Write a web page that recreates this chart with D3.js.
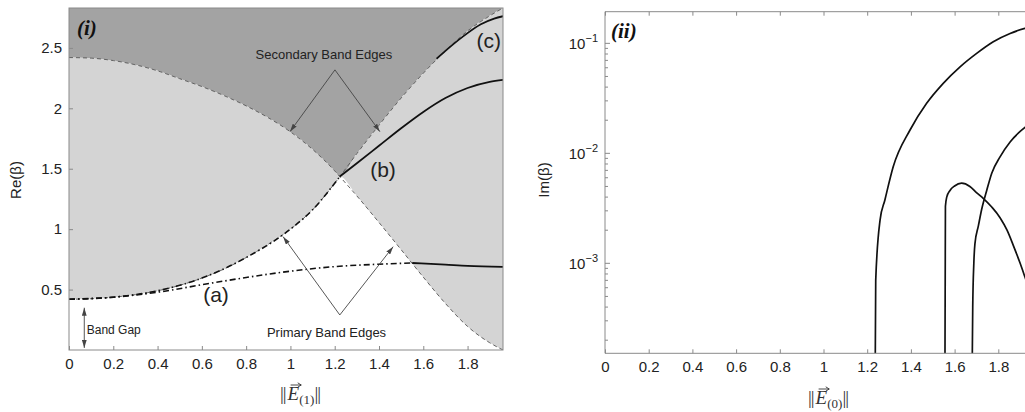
<!DOCTYPE html>
<html>
<head>
<meta charset="utf-8">
<script src="https://cdn.jsdelivr.net/npm/d3@7"></script>
<style>
  body { margin: 0; background: #fff; }
  svg { display: block; }
</style>
</head>
<body>
<div id="chart"></div>
<script>
// ---- panel (i): band edges, sampled on a common grid ----
const edgeX    = [0, 0.1, 0.2, 0.3, 0.4, 0.5, 0.6, 0.7, 0.8, 0.9, 1.0, 1.1, 1.2, 1.223, 1.3, 1.4, 1.5, 1.6, 1.7, 1.8, 1.9, 1.96];
const edgeDown = [2.42, 2.415, 2.395, 2.36, 2.31, 2.245, 2.18, 2.105, 2.02, 1.922, 1.805, 1.66, 1.482, 1.435, 1.275, 1.055, 0.83, 0.603, 0.385, 0.195, 0.06, 0];
const edgeUp   = [0.42, 0.424, 0.437, 0.458, 0.49, 0.535, 0.595, 0.67, 0.765, 0.875, 1.0, 1.16, 1.38, 1.435, 1.625, 1.86, 2.085, 2.29, 2.475, 2.64, 2.765, 2.83];

// branch (a)
const aDashX = [0, 0.2, 0.4, 0.6, 0.8, 1.0, 1.2, 1.4, 1.55];
const aDashY = [0.42, 0.437, 0.478, 0.54, 0.60, 0.652, 0.69, 0.71, 0.72];
const aSolidX = [1.55, 1.7, 1.8, 1.96];
const aSolidY = [0.72, 0.706, 0.696, 0.688];
// branch (b)
const bDashX = [0, 0.2, 0.4, 0.6, 0.8, 1.0, 1.1, 1.2, 1.223];
const bDashY = [0.42, 0.437, 0.49, 0.595, 0.765, 1.0, 1.16, 1.38, 1.435];
const bSolidX = [1.223, 1.3, 1.4, 1.5, 1.6, 1.7, 1.8, 1.9, 1.96];
const bSolidY = [1.435, 1.545, 1.69, 1.835, 1.97, 2.085, 2.168, 2.219, 2.235];
// branch (c)
const cSolidX = [1.66, 1.7, 1.78, 1.86, 1.92, 1.96];
const cSolidY = [2.41, 2.475, 2.595, 2.695, 2.742, 2.762];

const xTicks = [0, 0.2, 0.4, 0.6, 0.8, 1, 1.2, 1.4, 1.6, 1.8];
const reTicks = [0.5, 1, 1.5, 2, 2.5];

// ---- panel (ii): Im(beta), log scale ----
const im1X = [1.237, 1.239, 1.259, 1.281, 1.319, 1.396, 1.472, 1.548, 1.625, 1.701, 1.777, 1.854, 1.922, 1.96];
const im1Y = [1.5e-4, 7.0e-4, 2.48e-3, 3.77e-3, 7.55e-3, 0.0163, 0.0285, 0.0433, 0.0612, 0.0811, 0.1035, 0.123, 0.137, 0.143];
const im2X = [1.556, 1.558, 1.564, 1.579, 1.60, 1.632, 1.67, 1.70, 1.731, 1.77, 1.808, 1.84, 1.869, 1.90, 1.922, 1.96];
const im2Y = [1.5e-4, 3.3e-3, 4.0e-3, 4.6e-3, 5.05e-3, 5.35e-3, 5.0e-3, 4.4e-3, 3.9e-3, 3.25e-3, 2.6e-3, 2.0e-3, 1.45e-3, 1.0e-3, 7.5e-4, 4.5e-4];
const im3X = [1.681, 1.683, 1.688, 1.693, 1.709, 1.724, 1.747, 1.77, 1.808, 1.854, 1.9, 1.922, 1.96];
const im3Y = [1.5e-4, 4e-4, 1.0e-3, 1.5e-3, 2.2e-3, 3.1e-3, 4.6e-3, 6.6e-3, 9.3e-3, 0.0127, 0.0158, 0.0172, 0.019];
const imMajor = [-1, -2, -3];

const W = 1025, H = 412;
const svg = d3.select("#chart").append("svg")
    .attr("width", W).attr("height", H)
    .style("font-family", "'Liberation Sans', Arial, Helvetica, sans-serif");

const frame = "#8a8a8a";
const zip = (xs, ys) => xs.map((x, i) => [x, ys[i]]);

const defs = svg.append("defs");
defs.append("marker")
    .attr("id", "head")
    .attr("viewBox", "0 0 10 6")
    .attr("refX", 10).attr("refY", 3)
    .attr("markerWidth", 8).attr("markerHeight", 5)
    .attr("markerUnits", "userSpaceOnUse")
    .attr("orient", "auto-start-reverse")
  .append("path")
    .attr("d", "M0,0L10,3L0,6Z")
    .attr("fill", "#444");

// ================= panel (i) =================
const x1 = d3.scaleLinear().domain([0, 1.96]).range([69, 503]);
const y1 = d3.scaleLinear().domain([0, 2.83]).range([350, 8]);

defs.append("clipPath").attr("id", "clip1").append("rect")
    .attr("x", 69).attr("y", 8).attr("width", 434).attr("height", 342);

const g1 = svg.append("g");
const p1 = g1.append("g").attr("clip-path", "url(#clip1)");

const bands = edgeX.map((x, i) => ({
  x, lo: Math.min(edgeUp[i], edgeDown[i]), hi: Math.max(edgeUp[i], edgeDown[i])
}));

p1.append("path")
    .datum(bands)
    .attr("fill", "#a3a3a3")
    .attr("d", d3.area().x(d => x1(d.x)).y0(d => y1(d.hi)).y1(y1(2.83)).curve(d3.curveMonotoneX));
p1.append("path")
    .datum(bands)
    .attr("fill", "#d4d4d4")
    .attr("d", d3.area().x(d => x1(d.x)).y0(d => y1(d.lo)).y1(d => y1(d.hi)).curve(d3.curveMonotoneX));

const line1 = d3.line().x(d => x1(d[0])).y(d => y1(d[1])).curve(d3.curveMonotoneX);

[edgeDown, edgeUp].forEach(ys => {
  p1.append("path")
      .datum(zip(edgeX, ys))
      .attr("fill", "none")
      .attr("stroke", "#555")
      .attr("stroke-width", 0.9)
      .attr("stroke-dasharray", "4,3")
      .attr("d", line1);
});

[[aDashX, aDashY], [bDashX, bDashY]].forEach(([xs, ys]) => {
  p1.append("path")
      .datum(zip(xs, ys))
      .attr("fill", "none")
      .attr("stroke", "#111")
      .attr("stroke-width", 1.6)
      .attr("stroke-dasharray", "6,3,1.5,3")
      .attr("d", line1);
});

[[aSolidX, aSolidY], [bSolidX, bSolidY], [cSolidX, cSolidY]].forEach(([xs, ys]) => {
  p1.append("path")
      .datum(zip(xs, ys))
      .attr("fill", "none")
      .attr("stroke", "#111")
      .attr("stroke-width", 1.8)
      .attr("d", line1);
});

// axes
g1.append("g")
    .attr("transform", "translate(0,350)")
    .call(d3.axisBottom(x1).tickValues(xTicks).tickFormat(d3.format("~g"))
      .tickSize(-4).tickSizeOuter(0).tickPadding(8))
    .call(g => g.select(".domain").remove())
    .call(g => g.selectAll("line").attr("stroke", frame))
    .call(g => g.selectAll("text").attr("fill", "#222").style("font-size", "15px"));

g1.append("g")
    .attr("transform", "translate(69,0)")
    .call(d3.axisLeft(y1).tickValues(reTicks).tickFormat(d3.format("~g"))
      .tickSize(-4).tickSizeOuter(0).tickPadding(7))
    .call(g => g.select(".domain").remove())
    .call(g => g.selectAll("line").attr("stroke", frame))
    .call(g => g.selectAll("text").attr("fill", "#222").style("font-size", "15px"));

g1.append("rect")
    .attr("x", 69).attr("y", 8).attr("width", 434).attr("height", 342)
    .attr("fill", "none").attr("stroke", frame).attr("stroke-width", 1);

// annotations (in data units)
function arrow(g, sx, sy, [xa, ya], [xb, yb], both) {
  const l = g.append("line")
      .attr("x1", sx(xa)).attr("y1", sy(ya))
      .attr("x2", sx(xb)).attr("y2", sy(yb))
      .attr("stroke", "#444").attr("stroke-width", 0.9)
      .attr("marker-end", "url(#head)");
  if (both) l.attr("marker-start", "url(#head)");
}

const secApex = [1.201, 2.318];
arrow(g1, x1, y1, secApex, [0.998, 1.807]);
arrow(g1, x1, y1, secApex, [1.404, 1.807]);
const priApex = [1.223, 0.29];
arrow(g1, x1, y1, priApex, [0.967, 0.938]);
arrow(g1, x1, y1, priApex, [1.464, 0.855]);
arrow(g1, x1, y1, [0.069, 0.017], [0.069, 0.35], true);

const note = (g, x, y, txt, size, anchor) => g.append("text")
    .attr("x", x).attr("y", y)
    .attr("text-anchor", anchor || "middle")
    .attr("fill", "#222")
    .style("font-size", size + "px")
    .text(txt);

note(g1, x1(1.151), y1(2.409), "Secondary Band Edges", 13);
note(g1, x1(1.163), y1(0.108), "Primary Band Edges", 13);
note(g1, x1(0.08), y1(0.13), "Band Gap", 12, "start");
note(g1, x1(0.664), y1(0.40), "(a)", 21);
note(g1, x1(1.418), y1(1.43), "(b)", 21);
note(g1, x1(1.896), y1(2.50), "(c)", 21);

g1.append("text")
    .attr("x", 77).attr("y", 35)
    .style("font-family", "'Liberation Serif', 'Times New Roman', serif")
    .style("font-size", "21px").style("font-weight", "bold").style("font-style", "italic")
    .attr("fill", "#111")
    .text("(i)");

g1.append("text")
    .attr("transform", "translate(21,180) rotate(-90)")
    .attr("text-anchor", "middle")
    .attr("fill", "#222")
    .style("font-size", "15px")
    .text("Re(β)");

// ||E_(n)|| with a vector arrow over the E
function normLabel(g, cx, y, sub) {
  const t = g.append("text")
      .attr("x", cx).attr("y", y)
      .attr("text-anchor", "middle")
      .attr("fill", "#333")
      .style("font-family", "'Liberation Serif', 'Times New Roman', serif")
      .style("font-size", "19px");
  t.append("tspan").style("letter-spacing", "-1px").text("||");
  t.append("tspan").attr("dx", 2).style("font-style", "italic").text("E");
  t.append("tspan").attr("dy", 4).style("font-size", "13px").text("(" + sub + ")");
  t.append("tspan").attr("dy", -4).style("letter-spacing", "-1px").text("||");
  const box = t.node().getExtentOfChar(2);
  const ax0 = box.x + 3, ax1 = box.x + box.width + 2, ay = box.y + 2;
  g.append("path")
      .attr("d", `M${ax0},${ay}L${ax1},${ay}M${ax1 - 3.5},${ay - 2.2}L${ax1},${ay}L${ax1 - 3.5},${ay + 2.2}`)
      .attr("fill", "none")
      .attr("stroke", "#333")
      .attr("stroke-width", 0.9);
}
normLabel(g1, 300, 400, 1);

// ================= panel (ii) =================
const x2 = d3.scaleLinear().domain([0, 1.96]).range([605, 605 + 1.96 * 218.5]);
const y2 = d3.scaleLog().domain([1.52e-4, 0.194]).range([353.3, 11.7]);

defs.append("clipPath").attr("id", "clip2").append("rect")
    .attr("x", 605).attr("y", 11.7).attr("width", x2(1.96) - 605).attr("height", 341.6);

const g2 = svg.append("g");
const p2 = g2.append("g").attr("clip-path", "url(#clip2)");
const line2 = d3.line().x(d => x2(d[0])).y(d => y2(d[1])).curve(d3.curveMonotoneX);

[[im1X, im1Y], [im2X, im2Y], [im3X, im3Y]].forEach(([xs, ys]) => {
  p2.append("path")
      .datum(zip(xs, ys))
      .attr("fill", "none")
      .attr("stroke", "#111")
      .attr("stroke-width", 1.7)
      .attr("d", line2);
});

g2.append("g")
    .attr("transform", "translate(0,353.3)")
    .call(d3.axisBottom(x2).tickValues(xTicks).tickFormat(d3.format("~g"))
      .tickSize(-4).tickSizeOuter(0).tickPadding(8))
    .call(g => g.select(".domain").remove())
    .call(g => g.selectAll("line").attr("stroke", frame))
    .call(g => g.selectAll("text").attr("fill", "#222").style("font-size", "15px"));

g2.append("g")
    .attr("transform", "translate(0,11.7)")
    .call(d3.axisTop(x2).tickValues(xTicks).tickFormat("").tickSize(-4).tickSizeOuter(0))
    .call(g => g.select(".domain").remove())
    .call(g => g.selectAll("line").attr("stroke", frame));

// log ticks on the left
const minor = [];
[-4, -3, -2, -1].forEach(e => d3.range(2, 10).forEach(k => {
  const v = k * Math.pow(10, e);
  if (v > 1.52e-4 && v < 0.194) minor.push(v);
}));
g2.append("g").selectAll("line").data(minor).join("line")
    .attr("x1", 605).attr("x2", 608)
    .attr("y1", d => y2(d)).attr("y2", d => y2(d))
    .attr("stroke", frame);
g2.append("g").selectAll("line").data(imMajor).join("line")
    .attr("x1", 605).attr("x2", 610)
    .attr("y1", d => y2(Math.pow(10, d))).attr("y2", d => y2(Math.pow(10, d)))
    .attr("stroke", frame);
const lab = g2.append("g").selectAll("text").data(imMajor).join("text")
    .attr("x", 598).attr("y", d => y2(Math.pow(10, d)) + 6)
    .attr("text-anchor", "end")
    .attr("fill", "#222")
    .style("font-size", "15px");
lab.append("tspan").text("10");
lab.append("tspan").attr("dy", -7).style("font-size", "11px").text(d => "−" + (-d));

g2.append("path")
    .attr("d", `M${W},11.7H605V353.3H${W}`)
    .attr("fill", "none").attr("stroke", frame);

g2.append("text")
    .attr("x", 611).attr("y", 38)
    .style("font-family", "'Liberation Serif', 'Times New Roman', serif")
    .style("font-size", "21px").style("font-weight", "bold").style("font-style", "italic")
    .attr("fill", "#111")
    .text("(ii)");

g2.append("text")
    .attr("transform", "translate(549,180) rotate(-90)")
    .attr("text-anchor", "middle")
    .attr("fill", "#222")
    .style("font-size", "15px")
    .text("Im(β)");

normLabel(g2, 828, 404, 0);
</script>
</body>
</html>
